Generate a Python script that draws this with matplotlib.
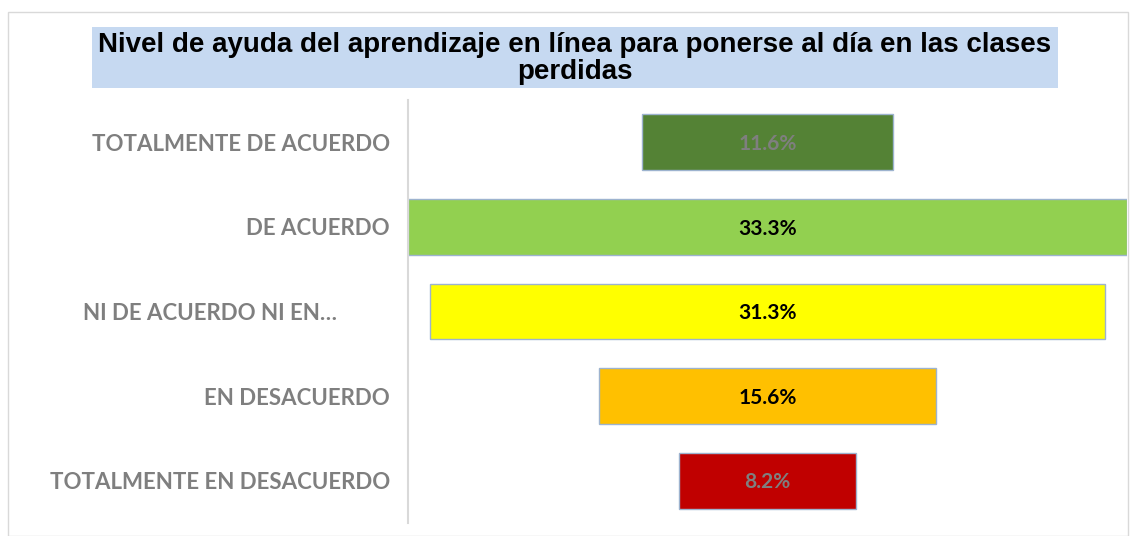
import matplotlib
matplotlib.use("Agg")
import matplotlib.pyplot as plt
from matplotlib.patches import Rectangle
from matplotlib.transforms import ScaledTranslation

categories = ["TOTALMENTE DE ACUERDO", "DE ACUERDO", "NI DE ACUERDO NI EN…",
              "EN DESACUERDO", "TOTALMENTE EN DESACUERDO"]
values = [11.6, 33.3, 31.3, 15.6, 8.2]
value_labels = ["11.6%", "33.3%", "31.3%", "15.6%", "8.2%"]
colors = ["#548235", "#92D050", "#FFFF00", "#FFC000", "#C00000"]
text_colors = ["#7F7F7F", "#000000", "#000000", "#000000", "#7F7F7F"]
title = "Nivel de ayuda del aprendizaje en línea para ponerse al día en las clases\nperdidas"

W, H = 1130, 536
fig = plt.figure(figsize=(W / 100, H / 100), dpi=100)

# outer frame
fig.patches.append(Rectangle((8 / W, 0), (1128 - 8) / W, (H - 12) / H,
                             transform=fig.transFigure, fill=False,
                             edgecolor="#D9D9D9", linewidth=1))

# title box
fig.patches.append(Rectangle((92 / W, (H - 88) / H), (1058 - 92) / W, 61 / H,
                             transform=fig.transFigure, facecolor="#C6D9F1",
                             edgecolor="none"))
fig.text(575 / W, (H - 58.5) / H, title, ha="center", va="center",
         fontsize=20, fontweight="bold", linespacing=1.03,
         family=["Liberation Sans Narrow", "Liberation Sans", "DejaVu Sans"],
         color="#000000")

ax = fig.add_axes([408 / W, (H - 523) / H, (1127 - 408) / W, (523 - 100) / H])
y = list(range(len(categories)))
lefts = [-v / 2 for v in values]
ax.barh(y, values, left=lefts, height=0.66, color=colors,
        edgecolor="#9DB3CF", linewidth=1)
for yi, lbl, tc in zip(y, value_labels, text_colors):
    ax.text(0, yi + 0.02, lbl, ha="center", va="center", fontsize=15,
            fontweight="bold", color=tc, family=["Lato", "DejaVu Sans"])

ax.set_xlim(-max(values) / 2, max(values) / 2)
ax.set_ylim(len(categories) - 0.5, -0.5)
ax.set_yticks(y)
ax.set_yticklabels(categories, fontsize=16, fontweight="bold", color="#7F7F7F",
                   family=["Lato", "DejaVu Sans"])
ax.tick_params(axis="y", length=0, pad=13)
lab = ax.get_yticklabels()[2]
lab.set_transform(lab.get_transform() + ScaledTranslation(-0.53, 0, fig.dpi_scale_trans))
ax.set_xticks([])
for s in ["top", "right", "bottom"]:
    ax.spines[s].set_visible(False)
ax.spines["left"].set_color("#D9D9D9")
ax.spines["left"].set_linewidth(1.5)
ax.set_facecolor("none")

fig.savefig("out.png", dpi=100)
